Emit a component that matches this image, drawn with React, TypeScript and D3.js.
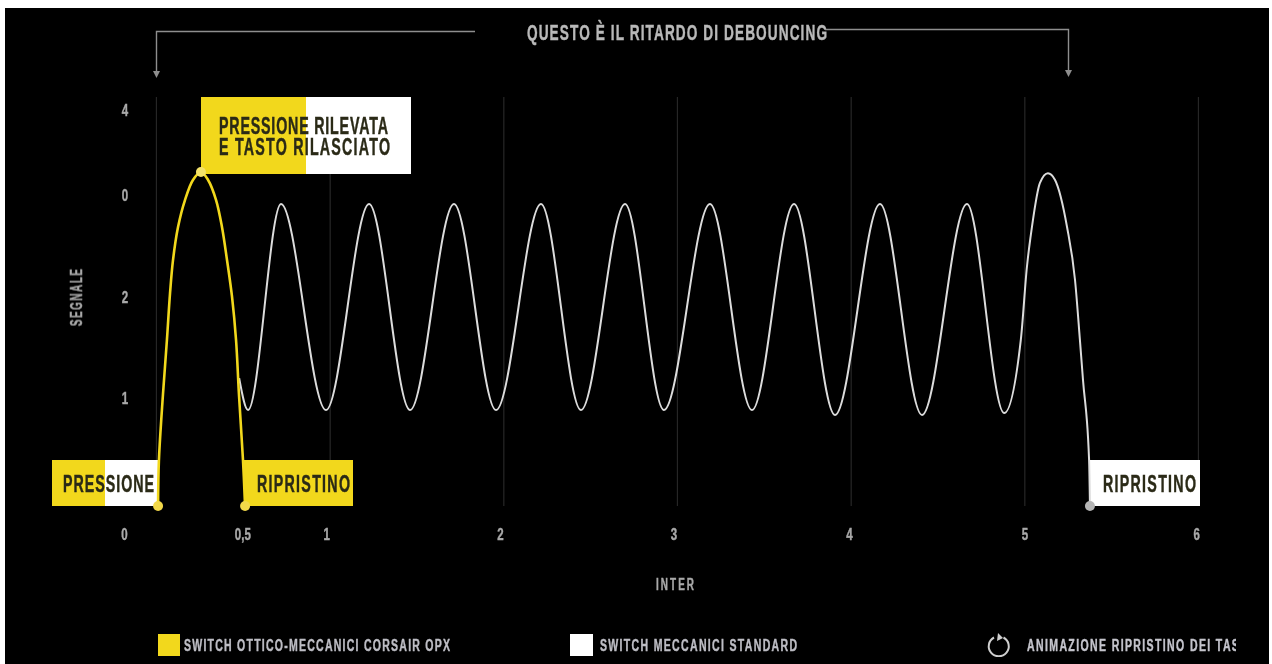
import React from "react";
import * as d3 from "d3";

const W = 1272, H = 664;

const gridTimes = [0, 1, 2, 3, 4, 5, 6];
const xTickLabels = ["0", "0,5", "1", "2", "3", "4", "5", "6"];
const xTickPositions = [-0.184, 0.497, 0.98, 1.98, 2.98, 3.99, 5.0, 5.99];
const yTickLabels = ["4", "0", "2", "1"];
const yTickPositions = [3.81, 2.99, 2.01, 1.04];

const opxTime = [0.009, 0.014, 0.037, 0.06, 0.078, 0.095, 0.124, 0.164, 0.21, 0.256, 0.297, 0.343, 0.377, 0.406, 0.435, 0.458, 0.475, 0.498, 0.51];
const opxSignal = [0, 0.442, 1.067, 1.596, 2.048, 2.365, 2.683, 2.942, 3.135, 3.212, 3.135, 2.942, 2.683, 2.365, 2.01, 1.596, 1.067, 0.442, 0];

const stdTime = [0.476, 0.527, 0.717, 0.976, 1.224, 1.46, 1.713, 1.955, 2.214, 2.444, 2.698, 2.922, 3.187, 3.429, 3.671, 3.907, 4.166, 4.408, 4.667, 4.881, 4.977, 5.012, 5.041, 5.087, 5.133, 5.174, 5.243, 5.289, 5.317, 5.335, 5.37, 5.375];
const stdSignal = [1.23, 0.923, 2.904, 0.923, 2.904, 0.923, 2.904, 0.923, 2.904, 0.923, 2.904, 0.923, 2.904, 0.923, 2.904, 0.875, 2.904, 0.875, 2.904, 0.894, 1.6, 2.298, 2.683, 3.106, 3.2, 3.135, 2.683, 2.173, 1.6, 1.21, 0.442, 0];

const opxMarkers = [[0.009, 0], [0.256, 3.212], [0.51, 0]];
const stdMarkers = [[5.375, 0]];

const x = d3.scaleLinear().domain([0, 6]).range([156.5, 1198.5]);
const y = d3.scaleLinear().domain([0, 4]).range([506, 90]);

const monotoneLine = d3
  .line<[number, number]>()
  .x((d) => x(d[0]))
  .y((d) => y(d[1]))
  .curve(d3.curveMonotoneX);
const smoothLine = d3
  .line<[number, number]>()
  .x((d) => x(d[0]))
  .y((d) => y(d[1]))
  .curve(d3.curveCatmullRom.alpha(0.5));

const pairs = (a: number[], b: number[]) => a.map((v, i) => [v, b[i]] as [number, number]);

const FONT = "'Liberation Sans',sans-serif";
const YELLOW = "#f2d81c";
const SQUEEZE = 0.62;

function Fit({ x0, x1, base, size, fill, text }: any) {
  return (
    <text
      transform={`translate(${x0},${base}) scale(${SQUEEZE},1)`}
      fontFamily={FONT}
      fontWeight="bold"
      fontSize={size}
      fill={fill}
      stroke={fill}
      strokeWidth={0.45}
      textLength={(x1 - x0) / SQUEEZE}
      lengthAdjust="spacing"
    >
      {text}
    </text>
  );
}

function Tick({ cx, base, text, fill }: any) {
  return (
    <text
      transform={`translate(${cx},${base}) scale(0.72,1)`}
      textAnchor="middle"
      fontFamily={FONT}
      fontWeight="bold"
      fontSize={16}
      fill={fill}
      stroke={fill}
      strokeWidth={0.4}
    >
      {text}
    </text>
  );
}

export default function App() {
  const ink = "#2b2a18";
  const grey = "#a9a9a9";
  return (
    <svg
      width={W}
      height={H}
      viewBox={`0 0 ${W} ${H}`}
      style={{ position: "absolute", left: 0, top: 0, background: "#fff" }}
    >
      <defs>
        <filter id="soft" x="0" y="0" width="100%" height="100%">
          <feGaussianBlur stdDeviation="0.55" />
        </filter>
        <clipPath id="legendClip">
          <rect x={1000} y={620} width={236} height={44} />
        </clipPath>
      </defs>
      <rect x={5} y={8} width={1264} height={656} fill="#000" />
      <g filter="url(#soft)">
        {gridTimes.map((t) => (
          <line key={t} x1={x(t)} x2={x(t)} y1={97} y2={506} stroke="#262626" strokeWidth={1.2} />
        ))}

        {/* bracket */}
        <path d="M475,31.5 H156.5 V74" fill="none" stroke="#8e8e8e" strokeWidth={1.4} />
        <path d="M153,71 L160,71 L156.5,78 Z" fill="#8e8e8e" />
        <path d="M825,29.5 H1068.5 V72" fill="none" stroke="#8e8e8e" strokeWidth={1.4} />
        <path d="M1065,70 L1072,70 L1068.5,77 Z" fill="#8e8e8e" />
        <Fit x0={527} x1={827} base={39.5} size={22} fill="#b9b9b9" text="QUESTO È IL RITARDO DI DEBOUNCING" />

        {/* annotation boxes */}
        <rect x={201} y={97} width={105} height={77} fill={YELLOW} />
        <rect x={306} y={97} width={105} height={77} fill="#fff" />
        <Fit x0={219} x1={388} base={134} size={23} fill={ink} text="PRESSIONE RILEVATA" />
        <Fit x0={219} x1={390} base={155} size={23} fill={ink} text="E TASTO RILASCIATO" />

        <rect x={52} y={460} width={53} height={46} fill={YELLOW} />
        <rect x={105} y={460} width={54} height={46} fill="#fff" />
        <Fit x0={63} x1={154} base={492} size={23} fill={ink} text="PRESSIONE" />

        <rect x={244} y={460} width={109} height={46} fill={YELLOW} />
        <Fit x0={257} x1={350} base={492} size={23} fill={ink} text="RIPRISTINO" />

        <rect x={1090} y={460} width={110} height={46} fill="#fff" />
        <Fit x0={1103} x1={1196} base={492} size={23} fill={ink} text="RIPRISTINO" />

        {/* curves */}
        <path d={monotoneLine(pairs(stdTime, stdSignal)) ?? ""} fill="none" stroke="#dcdcdc" strokeWidth={2} />
        <path d={smoothLine(pairs(opxTime, opxSignal)) ?? ""} fill="none" stroke={YELLOW} strokeWidth={2.6} />

        {opxMarkers.map((m, i) => (
          <circle key={i} cx={x(m[0])} cy={y(m[1])} r={5} fill={i === 1 ? "#f4e36a" : "#f2d84a"} />
        ))}
        {stdMarkers.map((m, i) => (
          <circle key={i} cx={x(m[0])} cy={y(m[1])} r={5} fill="#b5b5b5" />
        ))}

        {/* axis labels */}
        {xTickLabels.map((l, i) => (
          <Tick key={l} cx={x(xTickPositions[i])} base={540} text={l} fill={grey} />
        ))}
        {yTickLabels.map((l, i) => (
          <Tick key={i} cx={125} base={y(yTickPositions[i]) + 6} text={l} fill={grey} />
        ))}
        <g transform="translate(82,326) rotate(-90)">
          <Fit x0={0} x1={57} base={0} size={16} fill={grey} text="SEGNALE" />
        </g>
        <Fit x0={656} x1={694} base={590} size={16} fill={grey} text="INTER" />

        {/* legend */}
        <rect x={158} y={634} width={22} height={22} fill={YELLOW} />
        <Fit x0={184} x1={450} base={651} size={17} fill="#bdbdc4" text="SWITCH OTTICO-MECCANICI CORSAIR OPX" />
        <rect x={570} y={634} width={23} height={22} fill="#fff" />
        <Fit x0={600} x1={797} base={651} size={17} fill="#bdbdc4" text="SWITCH MECCANICI STANDARD" />
        <path d="M1003.5,637.5 A10,10 0 1 1 994,637.5" fill="none" stroke="#cfcfcf" strokeWidth={2} />
        <path d="M998,633 L1003,638 L997,641 Z" fill="#cfcfcf" />
        <g clipPath="url(#legendClip)">
          <Fit x0={1027} x1={1251} base={651} size={17} fill="#c4c4cc" text="ANIMAZIONE RIPRISTINO DEI TASTI" />
        </g>
      </g>
    </svg>
  );
}
